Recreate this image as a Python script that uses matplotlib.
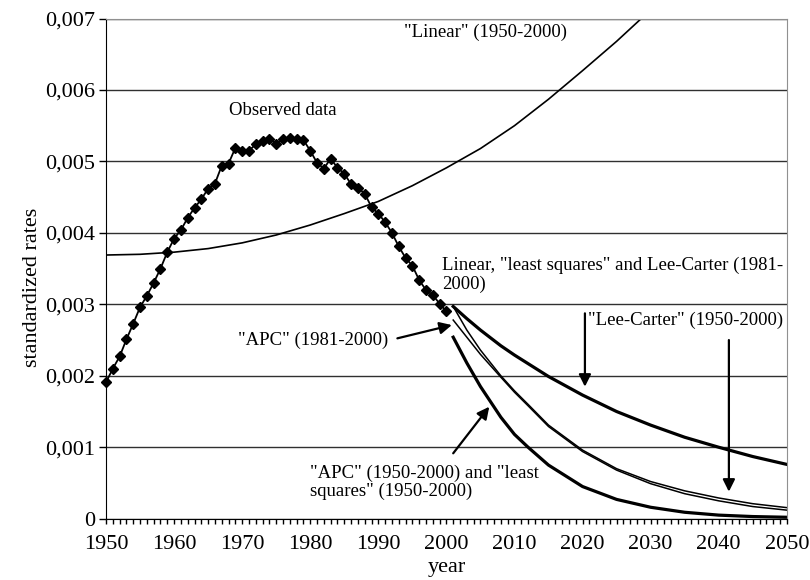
import numpy as np
import matplotlib
matplotlib.use("Agg")
import matplotlib.pyplot as plt
from matplotlib.ticker import MultipleLocator, FuncFormatter

plt.rcParams['font.family'] = ['Liberation Serif', 'DejaVu Serif']

# observed standardized rates 1950-2000 (x 0.001)
obs_years = list(range(1950, 2001))
obs_rates = [1.91, 2.10, 2.27, 2.51, 2.73, 2.96, 3.12, 3.30, 3.50, 3.73,
             3.92, 4.04, 4.21, 4.35, 4.47, 4.62, 4.69, 4.94, 4.97, 5.19,
             5.15, 5.15, 5.24, 5.29, 5.32, 5.25, 5.31, 5.33, 5.31, 5.30,
             5.15, 4.98, 4.90, 5.04, 4.91, 4.83, 4.68, 4.63, 4.55, 4.36,
             4.27, 4.15, 4.00, 3.81, 3.65, 3.54, 3.34, 3.20, 3.13, 3.01,
             2.90]

# "Linear" (1950-2000) fit
lin_years = [1950, 1955, 1960, 1965, 1970, 1975, 1980, 1985, 1990, 1995,
             2000, 2005, 2010, 2015, 2020, 2025, 2030]
lin_rates = [3.69, 3.70, 3.73, 3.78, 3.86, 3.97, 4.11, 4.27, 4.44, 4.66,
             4.91, 5.18, 5.50, 5.87, 6.27, 6.68, 7.12]

# projections 2001-2050
proj_years = [2001, 2003, 2005, 2008, 2010, 2012, 2015, 2020, 2025, 2030,
              2035, 2040, 2045, 2050]
lc_5000 = [2.97, 2.80, 2.64, 2.42, 2.29, 2.17, 1.99, 1.73, 1.50, 1.31,
           1.14, 1.00, 0.87, 0.76]
lin_ls_lc_8100 = [2.97, 2.64, 2.36, 2.00, 1.79, 1.60, 1.31, 0.96, 0.70, 0.52,
                  0.39, 0.29, 0.21, 0.155]
apc_8100 = [2.78, 2.54, 2.30, 1.98, 1.77, 1.58, 1.29, 0.94, 0.68, 0.49,
            0.35, 0.25, 0.17, 0.12]
apc_ls_5000 = [2.54, 2.18, 1.85, 1.42, 1.18, 1.00, 0.75, 0.45, 0.27, 0.16,
               0.09, 0.05, 0.03, 0.02]

k = 0.001
fig = plt.figure(figsize=(8.1, 5.8), dpi=100)
ax = fig.add_axes([0.1309, 0.1057, 0.8404, 0.8624])

ax.plot(obs_years, np.array(obs_rates) * k, color='black', lw=1.3,
        marker='D', markersize=5.5, zorder=4, clip_on=False)
ax.plot(lin_years, np.array(lin_rates) * k, color='black', lw=1.2)
ax.plot(proj_years, np.array(lc_5000) * k, color='black', lw=2.3)
ax.plot(proj_years, np.array(lin_ls_lc_8100) * k, color='black', lw=1.1)
ax.plot(proj_years, np.array(apc_8100) * k, color='black', lw=1.1)
ax.plot(proj_years, np.array(apc_ls_5000) * k, color='black', lw=2.3)

ax.set_xlim(1950, 2050)
ax.set_ylim(0, 0.007)
ax.xaxis.set_major_locator(MultipleLocator(10))
ax.xaxis.set_minor_locator(MultipleLocator(1))
ax.yaxis.set_major_locator(MultipleLocator(0.001))
ax.yaxis.set_major_formatter(FuncFormatter(
    lambda v, p: '0' if abs(v) < 1e-9 else f'{v:.3f}'.replace('.', ',')))
ax.tick_params(axis='x', which='both', direction='out', length=3.5,
               width=1, labelsize=16, pad=8)
ax.tick_params(axis='y', direction='out', length=5, width=1,
               labelsize=16, pad=3)

ax.grid(axis='y', color='#303030', lw=1)
ax.grid(axis='x', visible=False)
ax.spines['left'].set_color('black')
ax.spines['bottom'].set_color('black')
ax.spines['top'].set_color('#909090')
ax.spines['right'].set_color('#909090')
ax.set_axisbelow(True)

ax.set_xlabel('year', fontsize=16)
ax.set_ylabel('standardized rates', fontsize=16)
ax.xaxis.set_label_coords(0.5, -0.079)
ax.yaxis.set_label_coords(-0.094, 0.463)

fs = 13.5
ax.text(1975.9, 0.00571, 'Observed data', fontsize=fs, ha='center', va='center')
ax.text(2005.7, 0.0068, '"Linear" (1950-2000)', fontsize=fs, ha='center', va='center')
ax.text(1999.3, 0.00341, 'Linear, "least squares" and Lee-Carter (1981-\n2000)',
        fontsize=fs, ha='left', va='center', linespacing=1.1)
ax.text(1991.4, 0.0025, '"APC" (1981-2000)', fontsize=fs, ha='right', va='center')
ax.text(2020.8, 0.00277, '"Lee-Carter" (1950-2000)', fontsize=fs, ha='left', va='center')
ax.text(1979.9, 0.000507, '"APC" (1950-2000) and "least\nsquares" (1950-2000)',
        fontsize=fs, ha='left', va='center', linespacing=1.1)

arrow = dict(arrowstyle='-|>', color='black', lw=1.6, mutation_scale=18,
             shrinkA=0, shrinkB=0)
ax.annotate('', xy=(2000.8, 0.00271), xytext=(1992.8, 0.002524), arrowprops=arrow)
ax.annotate('', xy=(2020.35, 0.001847), xytext=(2020.35, 0.002874), arrowprops=arrow)
ax.annotate('', xy=(2041.5, 0.000378), xytext=(2041.5, 0.0025), arrowprops=arrow)
ax.annotate('', xy=(2006.3, 0.001567), xytext=(2001.0, 0.000915), arrowprops=arrow)

fig.savefig('out.png', dpi=100)
